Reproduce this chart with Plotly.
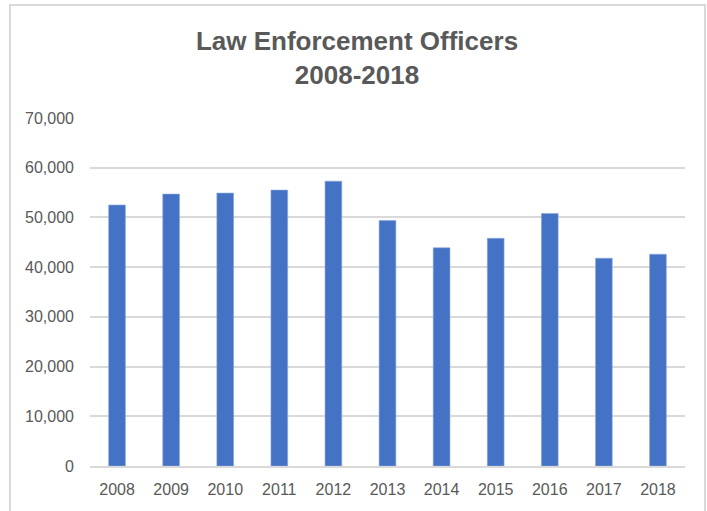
import plotly.graph_objects as go

years = ["2008", "2009", "2010", "2011", "2012", "2013", "2014", "2015", "2016", "2017", "2018"]
officers = [52500, 54700, 54900, 55500, 57300, 49400, 43900, 45800, 50800, 41800, 42600]
y_ticks = [0, 10000, 20000, 30000, 40000, 50000, 60000, 70000]
y_tick_labels = ["0", "10,000", "20,000", "30,000", "40,000", "50,000", "60,000", "70,000"]

fig = go.Figure()
fig.add_trace(go.Bar(
    x=years, y=officers,
    marker=dict(color="#4472C4", line=dict(color="#8FAADC", width=0.6)),
    hoverinfo="x+y",
))

fig.update_layout(
    width=707, height=511,
    margin=dict(l=90, r=22, t=118, b=45),
    paper_bgcolor="white", plot_bgcolor="white",
    bargap=0.69,
    showlegend=False,
    title=dict(
        text="<b>Law Enforcement Officers<br>2008-2018</b>",
        x=357 / 707, xanchor="center", xref="container",
        y=1 - 50 / 511, yanchor="top",
        font=dict(family="Liberation Sans, Arial, sans-serif", size=26, color="#595959"),
    ),
    font=dict(family="Liberation Sans, Arial, sans-serif", color="#595959"),
    xaxis=dict(
        type="category", showgrid=False, showline=True, linecolor="#d9d9d9", linewidth=2,
        ticks="", tickfont=dict(size=16, color="#595959"), ticklabelstandoff=8,
    ),
    yaxis=dict(
        range=[0, 70000], tickvals=y_ticks, ticktext=y_tick_labels,
        showgrid=True, gridcolor="#d9d9d9", gridwidth=2,
        zeroline=False, showline=False, ticks="",
        tickfont=dict(size=16, color="#595959"), ticklabelstandoff=15,
    ),
    shapes=[dict(
        type="rect", xref="paper", yref="paper",
        x0=(10 - 90) / 595, x1=(705 - 90) / 595,
        y0=(466 - 520) / 348, y1=(466 - 5) / 348,
        line=dict(color="#d9d9d9", width=2), fillcolor="rgba(0,0,0,0)", layer="below",
    )],
)

fig.write_html(
    "out.html",
    config={"displayModeBar": False},
    post_script="document.body.style.margin='0';document.body.style.padding='0';",
)
